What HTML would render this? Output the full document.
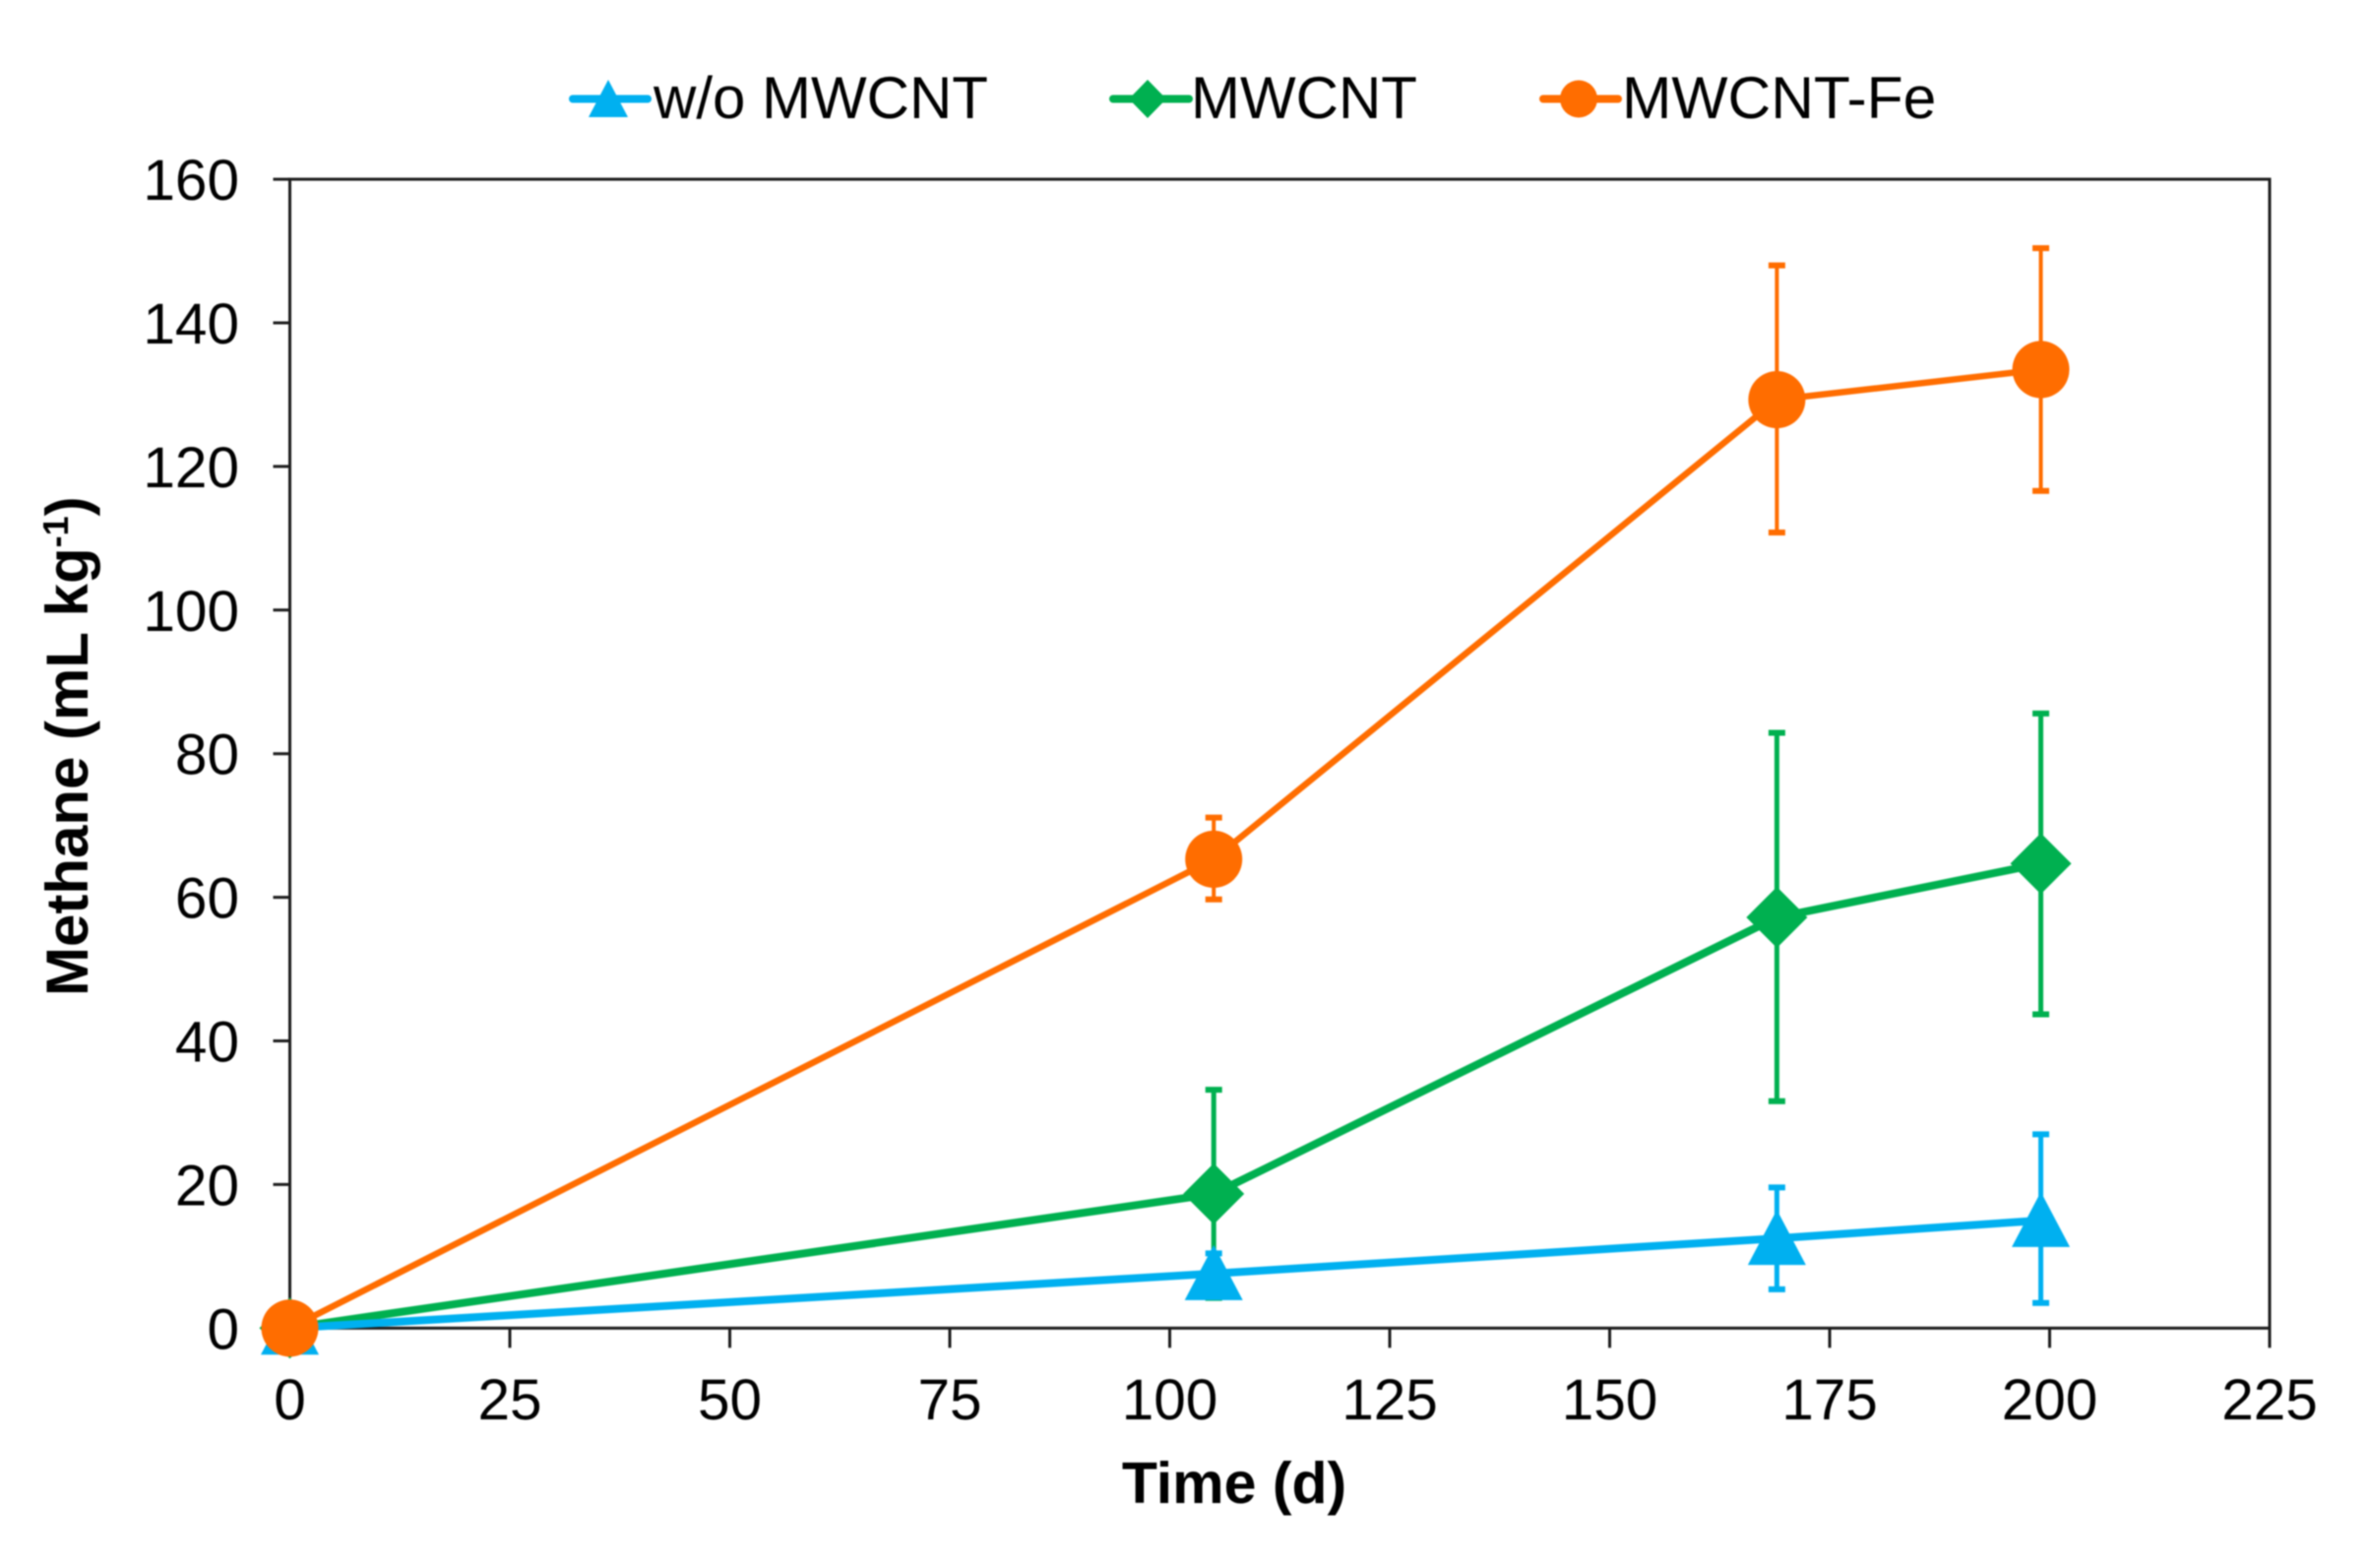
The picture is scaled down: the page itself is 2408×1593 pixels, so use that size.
<!DOCTYPE html>
<html lang="en">
<head>
<meta charset="utf-8">
<title>Methane over time</title>
<style>
html,body{margin:0;padding:0;background:#fff;}
#chart{display:block;width:2408px;height:1593px;filter:blur(0.8px);}
text{font-family:"Liberation Sans",Arial,sans-serif;fill:#000;}
</style>
</head>
<body>
<svg id="chart" xmlns="http://www.w3.org/2000/svg" width="2408" height="1593" viewBox="0 0 2408 1593">
  <rect x="0" y="0" width="2408" height="1593" fill="#ffffff"/>
  <g id="axes"></g>
  <g id="series"></g>
  <text x="1254" y="1527" text-anchor="middle" font-size="59" font-weight="700">Time (d)</text>
  <text transform="translate(89 1012) rotate(-90)" font-size="60" font-weight="700">Methane (mL kg<tspan font-size="36" dy="-20">-1</tspan><tspan dy="20">)</tspan></text>
  <g>
    <g>
      <line x1="582" y1="100.5" x2="658" y2="100.5" stroke="#00B0F0" stroke-width="8" stroke-linecap="round"/>
      <polygon points="618,81 638,119 598,119" fill="#00B0F0"/>
      <text x="664" y="120" font-size="60">w/o MWCNT</text>
    </g>
    <g>
      <line x1="1131" y1="100.5" x2="1208" y2="100.5" stroke="#00B050" stroke-width="8" stroke-linecap="round"/>
      <polygon points="1166,81 1185,100.5 1166,120 1147,100.5" fill="#00B050"/>
      <text x="1210" y="120" font-size="60">MWCNT</text>
    </g>
    <g>
      <line x1="1568" y1="100.5" x2="1644" y2="100.5" stroke="#FF6D00" stroke-width="8" stroke-linecap="round"/>
      <circle cx="1604" cy="100.5" r="19" fill="#FF6D00"/>
      <text x="1648" y="120" font-size="60.5">MWCNT-Fe</text>
    </g>
  </g>
</svg>
<script>
const xTicks = [0, 25, 50, 75, 100, 125, 150, 175, 200, 225];
const yTicks = [0, 20, 40, 60, 80, 100, 120, 140, 160];
const days = [0, 105, 169, 199];

const blueValues = [0, 7.6, 12.5, 15];
const blueUpper = [0, 10.4, 19.6, 27];
const blueLower = [0, 4.8, 5.4, 3.5];

const greenValues = [0, 18.7, 57.2, 64.7];
const greenUpper = [0, 33.2, 82.9, 85.6];
const greenLower = [0, 4.2, 31.6, 43.7];

const orangeValues = [0, 65.3, 129.3, 133.5];
const orangeUpper = [0, 71.1, 148, 150.4];
const orangeLower = [0, 59.7, 110.8, 116.6];

const NS = 'http://www.w3.org/2000/svg';
const X0 = 294.5, XK = 8.94, Y0 = 1349.3, YK = 7.295;
function sx(v) { return X0 + XK * v; }
function sy(v) { return Y0 - YK * v; }
function mk(tag, parent) {
  const e = document.createElementNS(NS, tag);
  parent.appendChild(e);
  return e;
}
function seg(parent, x1, y1, x2, y2, color, w) {
  const l = mk('line', parent);
  l.setAttribute('x1', x1);
  l.setAttribute('y1', y1);
  l.setAttribute('x2', x2);
  l.setAttribute('y2', y2);
  l.setAttribute('stroke', color);
  l.setAttribute('stroke-width', w);
  return l;
}

const axes = document.getElementById('axes');
const AXIS = '#1c1c1c';
const frame = mk('rect', axes);


frame.setAttribute('x', sx(0));
frame.setAttribute('y', sy(160));
frame.setAttribute('width', sx(225) - sx(0));
frame.setAttribute('height', sy(0) - sy(160));
frame.setAttribute('fill', 'none');
frame.setAttribute('stroke', AXIS);
frame.setAttribute('stroke-width', 3);

xTicks.forEach(function (t) {
  const tick = seg(axes, sx(t), sy(0), sx(t), sy(0) + 20, AXIS, 3);
  
  
  const lab = mk('text', axes);
  
  
  lab.setAttribute('x', sx(t));
  lab.setAttribute('y', 1442);
  lab.setAttribute('text-anchor', 'middle');
  lab.setAttribute('font-size', 58.5);
  lab.textContent = t;
});
yTicks.forEach(function (t) {
  const tick = seg(axes, sx(0) - 17, sy(t), sx(0), sy(t), AXIS, 3);
  
  
  const lab = mk('text', axes);
  
  
  lab.setAttribute('x', 243);
  lab.setAttribute('y', sy(t) + 21);
  lab.setAttribute('text-anchor', 'end');
  lab.setAttribute('font-size', 58.5);
  lab.textContent = t;
});

const seriesRoot = document.getElementById('series');
function drawSeries(key, color, values, upper, lower, lineW, errW, shape) {
  const g = mk('g', seriesRoot);
  
  
  days.forEach(function (d, i) {
    if (upper[i] === lower[i]) return;
    const x = sx(d);
    const bar = seg(g, x, sy(upper[i]), x, sy(lower[i]), color, errW);
    
    
    const capTop = seg(g, x - 8.5, sy(upper[i]), x + 8.5, sy(upper[i]), color, 6);
    
    
    const capBottom = seg(g, x - 8.5, sy(lower[i]), x + 8.5, sy(lower[i]), color, 6);
    
    
  });
  const line = mk('polyline', g);
  
  
  line.setAttribute('fill', 'none');
  line.setAttribute('stroke', color);
  line.setAttribute('stroke-width', lineW);
  line.setAttribute('points', days.map(function (d, i) { return sx(d) + ',' + sy(values[i]); }).join(' '));
  days.forEach(function (d, i) {
    const x = sx(d), y = sy(values[i]);
    let m;
    if (shape === 'circle') {
      m = mk('circle', g);
      m.setAttribute('cx', x);
      m.setAttribute('cy', y);
      m.setAttribute('r', 29);
    } else if (shape === 'diamond') {
      m = mk('polygon', g);
      m.setAttribute('points', x + ',' + (y - 31) + ' ' + (x + 31) + ',' + y + ' ' + x + ',' + (y + 31) + ' ' + (x - 31) + ',' + y);
    } else {
      m = mk('polygon', g);
      m.setAttribute('points', x + ',' + (y - 29) + ' ' + (x + 29.5) + ',' + (y + 27) + ' ' + (x - 29.5) + ',' + (y + 27));
    }
    
    
    m.setAttribute('fill', color);
  });
}
drawSeries('mwcnt', '#00B050', greenValues, greenUpper, greenLower, 8, 5, 'diamond');
drawSeries('without-mwcnt', '#00B0F0', blueValues, blueUpper, blueLower, 8, 5, 'triangle');
drawSeries('mwcnt-fe', '#FF6D00', orangeValues, orangeUpper, orangeLower, 6.5, 4, 'circle');
</script>
</body>
</html>
